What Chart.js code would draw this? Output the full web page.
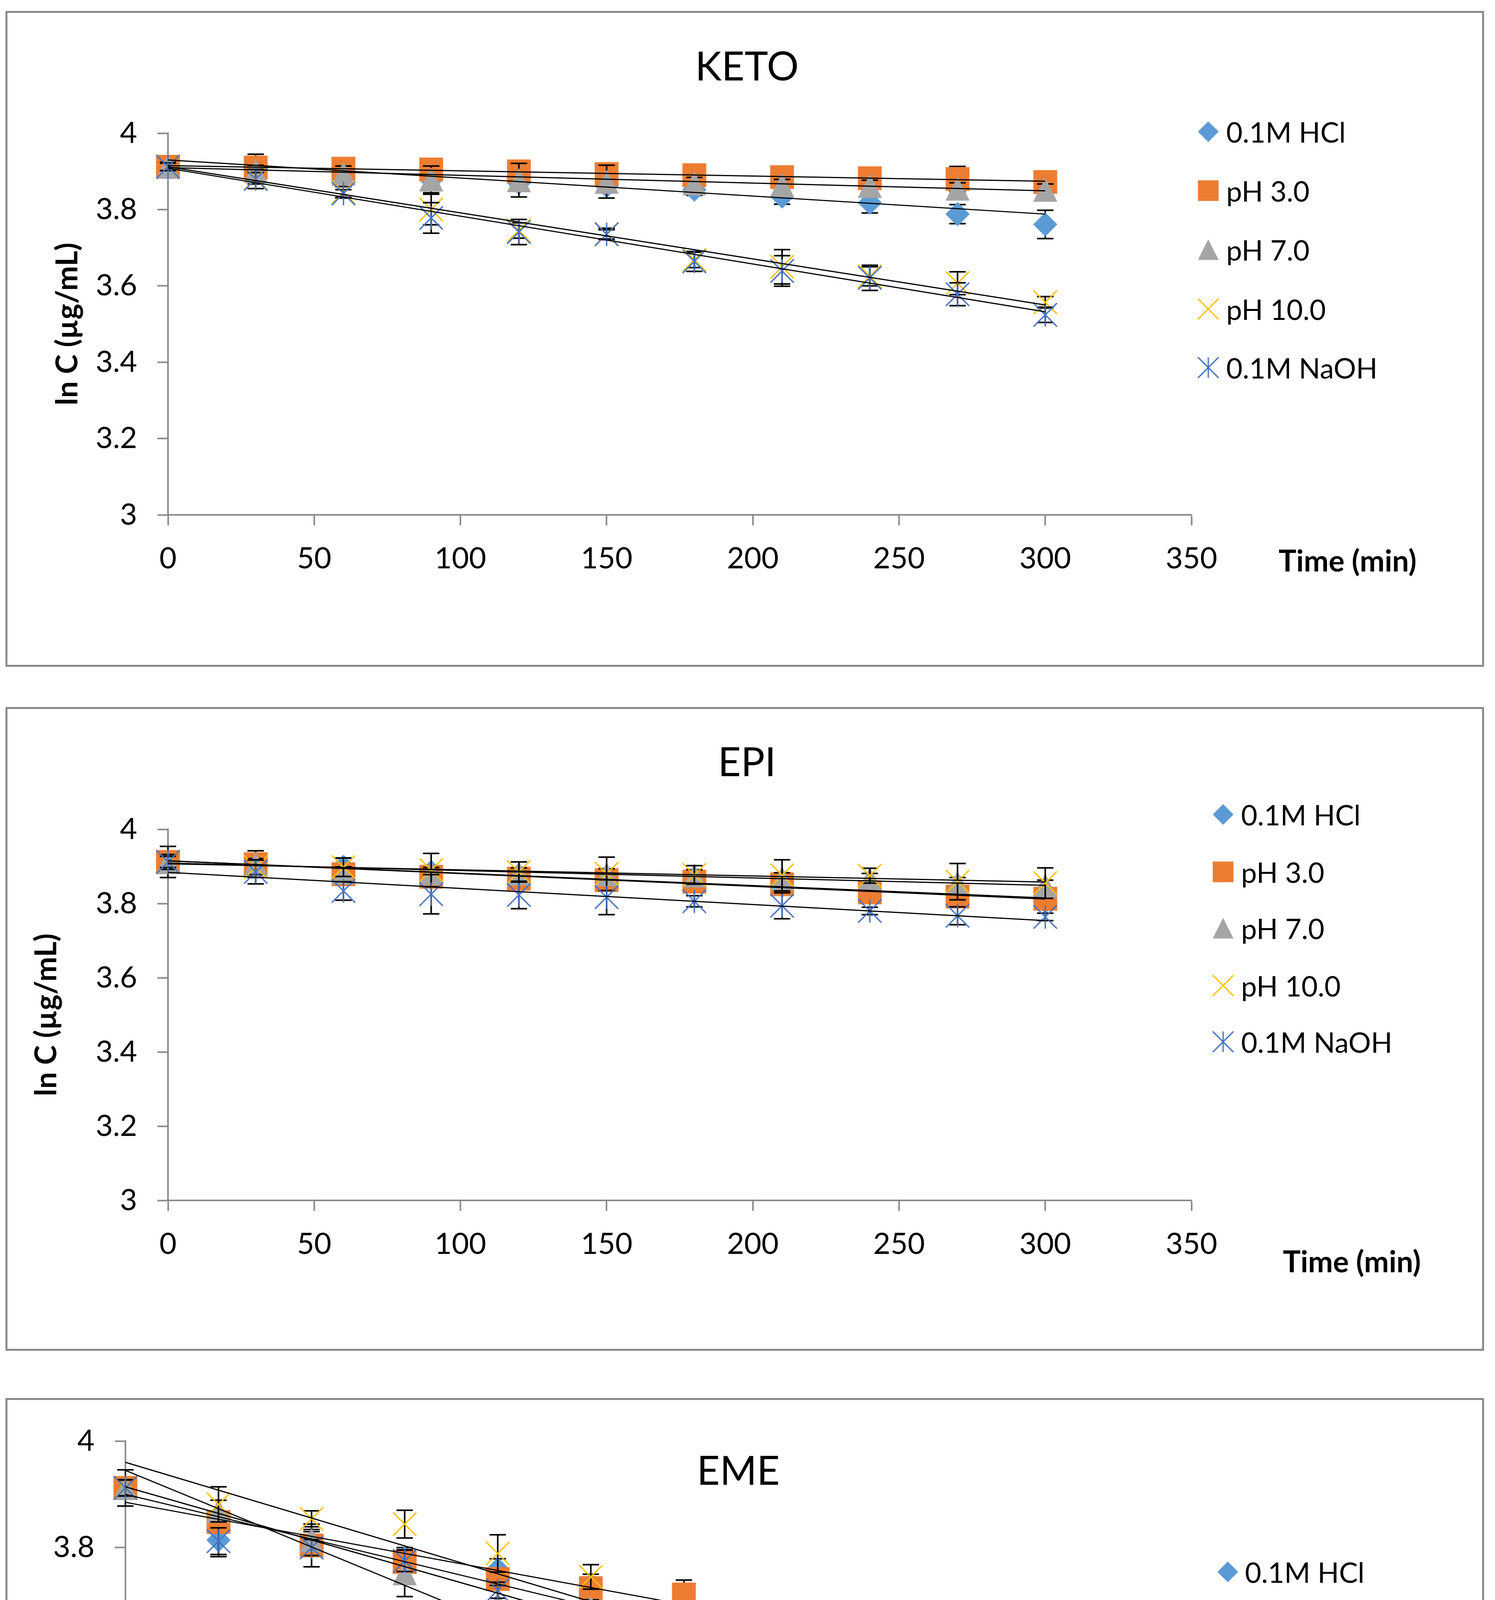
<!DOCTYPE html>
<html>
<head>
<meta charset="utf-8">
<script src="https://cdn.jsdelivr.net/npm/chart.js@4.4.1/dist/chart.umd.min.js"></script>
<style>
body { margin: 0; background: #fff; width: 3827px; height: 5241px; position: relative; font-family: Lato, "Noto Sans", sans-serif; overflow: hidden; }
.panel { position: absolute; left: 14px; width: 3775px; border: 5px solid #898989; background: #fff; }
.panel canvas { position: absolute; left: 0; top: 0; }
.ttl { position: absolute; font-size: 102px; line-height: 1; transform: translate(-50%, -50%); white-space: nowrap; }
.xt { position: absolute; font-size: 76px; font-weight: bold; line-height: 1; transform: translateY(-50%); white-space: nowrap; }
.lg { position: absolute; font-size: 72px; line-height: 1; transform: translateY(-50%); white-space: nowrap; }
.lm { position: absolute; }
</style>
</head>
<body>
<div class="panel" id="p-keto" style="top:28px;height:1669px"><canvas id="c-keto"></canvas></div>
<div class="panel" id="p-epi" style="top:1810px;height:1638px"><canvas id="c-epi"></canvas></div>
<div class="panel" id="p-eme" style="top:3579px;height:1635px"><canvas id="c-eme"></canvas></div>
<script>
// sampling times (min) and axis ticks
const times = [0, 30, 60, 90, 120, 150, 180, 210, 240, 270, 300];
const xTickValues = [0, 50, 100, 150, 200, 250, 300, 350];
const yTickValues = [3, 3.2, 3.4, 3.6, 3.8, 4];

const seriesNames = ['0.1M HCl', 'pH 3.0', 'pH 7.0', 'pH 10.0', '0.1M NaOH'];
const seriesColors = ['#5B9BD5', '#ED7D31', '#A5A5A5', '#FFC000', '#4472C4'];
const seriesMarkers = ['diamond', 'square', 'triangle', 'cross', 'star'];

// KETO  (ln C)
const ketoHCl  = [3.912, 3.900, 3.888, 3.878, 3.870, 3.862, 3.852, 3.834, 3.818, 3.788, 3.761];
const ketoPH3  = [3.912, 3.910, 3.907, 3.905, 3.900, 3.893, 3.890, 3.885, 3.882, 3.880, 3.872];
const ketoPH7  = [3.912, 3.901, 3.894, 3.879, 3.877, 3.873, 3.869, 3.864, 3.862, 3.855, 3.852];
const ketoPH10 = [3.912, 3.882, 3.845, 3.800, 3.745, 3.736, 3.668, 3.650, 3.625, 3.607, 3.557];
const ketoNaOH = [3.912, 3.880, 3.842, 3.778, 3.741, 3.735, 3.664, 3.639, 3.621, 3.578, 3.524];
const ketoErrHCl  = [0.010, 0.015, 0.015, 0.015, 0.015, 0.015, 0.015, 0.020, 0.027, 0.025, 0.037];
const ketoErrPH3  = [0.012, 0.035, 0.015, 0.012, 0.012, 0.012, 0.012, 0.012, 0.012, 0.033, 0.012];
const ketoErrPH7  = [0.012, 0.015, 0.020, 0.035, 0.044, 0.043, 0.015, 0.015, 0.015, 0.015, 0.015];
const ketoErrPH10 = [0.010, 0.015, 0.015, 0.040, 0.020, 0.015, 0.020, 0.045, 0.025, 0.030, 0.015];
const ketoErrNaOH = [0.010, 0.025, 0.010, 0.040, 0.033, 0.012, 0.026, 0.040, 0.033, 0.030, 0.020];
const ketoTrendStart = [3.930, 3.915, 3.910, 3.912, 3.908];
const ketoTrendEnd   = [3.788, 3.874, 3.849, 3.550, 3.532];

// EPI
const epiHCl  = [3.912, 3.905, 3.899, 3.885, 3.875, 3.865, 3.858, 3.848, 3.835, 3.820, 3.805];
const epiPH3  = [3.912, 3.906, 3.879, 3.872, 3.867, 3.863, 3.859, 3.852, 3.830, 3.819, 3.813];
const epiPH7  = [3.912, 3.906, 3.884, 3.882, 3.881, 3.879, 3.876, 3.868, 3.866, 3.855, 3.848];
const epiPH10 = [3.912, 3.898, 3.898, 3.890, 3.885, 3.880, 3.877, 3.876, 3.875, 3.859, 3.855];
const epiNaOH = [3.912, 3.885, 3.834, 3.825, 3.823, 3.817, 3.806, 3.794, 3.780, 3.767, 3.764];
const epiErrHCl  = [0.015, 0.015, 0.023, 0.015, 0.015, 0.015, 0.015, 0.015, 0.015, 0.015, 0.015];
const epiErrPH3  = [0.042, 0.036, 0.020, 0.020, 0.020, 0.020, 0.015, 0.015, 0.015, 0.015, 0.015];
const epiErrPH7  = [0.015, 0.015, 0.015, 0.015, 0.015, 0.015, 0.015, 0.015, 0.015, 0.015, 0.015];
const epiErrPH10 = [0.020, 0.020, 0.025, 0.045, 0.027, 0.045, 0.025, 0.042, 0.020, 0.049, 0.041];
const epiErrNaOH = [0.015, 0.032, 0.025, 0.053, 0.037, 0.047, 0.015, 0.035, 0.010, 0.024, 0.010];
const epiTrendStart = [3.915, 3.915, 3.909, 3.907, 3.884];
const epiTrendEnd   = [3.812, 3.815, 3.849, 3.858, 3.754];

// EME
const emeHCl  = [3.912, 3.814, 3.810, 3.780, 3.759, 3.730, 3.669, 3.604, 3.554, 3.500, 3.480];
const emePH3  = [3.912, 3.848, 3.804, 3.773, 3.741, 3.724, 3.712, 3.667, 3.637, 3.585, 3.566];
const emePH7  = [3.912, 3.869, 3.814, 3.752, 3.695, 3.687, 3.621, 3.558, 3.520, 3.468, 3.400];
const emePH10 = [3.912, 3.881, 3.854, 3.844, 3.789, 3.745, 3.674, 3.596, 3.507, 3.469, 3.419];
const emeNaOH = [3.912, 3.812, 3.800, 3.775, 3.720, 3.623, 3.544, 3.444, 3.375, 3.268, 3.180];
const emeErrHCl  = [0.015, 0.031, 0.020, 0.020, 0.020, 0.020, 0.020, 0.020, 0.030, 0.030, 0.010];
const emeErrPH3  = [0.034, 0.020, 0.040, 0.020, 0.020, 0.020, 0.027, 0.025, 0.025, 0.037, 0.026];
const emeErrPH7  = [0.015, 0.020, 0.020, 0.044, 0.034, 0.015, 0.015, 0.027, 0.020, 0.036, 0.019];
const emeErrPH10 = [0.015, 0.033, 0.015, 0.026, 0.035, 0.023, 0.015, 0.015, 0.015, 0.015, 0.020];
const emeErrNaOH = [0.015, 0.025, 0.015, 0.020, 0.015, 0.034, 0.018, 0.012, 0.012, 0.033, 0.013];
const emeTrendStart = [3.900, 3.885, 3.914, 3.960, 3.945];
const emeTrendEnd   = [3.479, 3.565, 3.415, 3.437, 3.226];

const AXIS = '#898989';
const W = 3775;

// where things sit (canvas-local plot box, page coords for the html text)
const panels = [
  { id: 'keto', title: 'KETO', h: 1669, pageTop: 33,
    left: 411, right: 3031, top: 308, bottom: 1285, padL: 109,
    values: [ketoHCl, ketoPH3, ketoPH7, ketoPH10, ketoNaOH],
    errors: [ketoErrHCl, ketoErrPH3, ketoErrPH7, ketoErrPH10, ketoErrNaOH],
    trendStart: ketoTrendStart, trendEnd: ketoTrendEnd,
    titlePos: [1912, 167], xTitlePos: [3273, 1434], legend: { mx: 3093, tx: 3139, ys: [337, 488, 639, 791, 941] } },
  { id: 'epi', title: 'EPI', h: 1638, pageTop: 1815,
    left: 411, right: 3031, top: 308, bottom: 1258, padL: 55,
    values: [epiHCl, epiPH3, epiPH7, epiPH10, epiNaOH],
    errors: [epiErrHCl, epiErrPH3, epiErrPH7, epiErrPH10, epiErrNaOH],
    trendStart: epiTrendStart, trendEnd: epiTrendEnd,
    titlePos: [1912, 1948], xTitlePos: [3284, 3228], legend: { mx: 3131, tx: 3177, ys: [2085, 2232, 2376, 2523, 2667] } },
  { id: 'eme', title: 'EME', h: 1635, pageTop: 3584,
    left: 302, right: 3082, top: 105, bottom: 1469, padL: 29,
    values: [emeHCl, emePH3, emePH7, emePH10, emeNaOH],
    errors: [emeErrHCl, emeErrPH3, emeErrPH7, emeErrPH10, emeErrNaOH],
    trendStart: emeTrendStart, trendEnd: emeTrendEnd,
    titlePos: [1890, 3762], xTitlePos: [3299, 5077], legend: { mx: 3143, tx: 3187, ys: [4024, 4178, 4332, 4492, 4646] } }
];

const markerSize = { diamond: 62, square: 61, triangle: 62, cross: 60, star: 60 };

function markerCanvas(kind, color, size, lw) {
  const c = document.createElement('canvas');
  const s = Math.ceil(size + lw * 2);
  c.width = c.height = s % 2 ? s + 1 : s;
  const ctx = c.getContext('2d');
  const m = c.width / 2, h = size / 2;
  ctx.fillStyle = color;
  ctx.strokeStyle = color;
  ctx.lineWidth = lw;
  ctx.beginPath();
  if (kind === 'diamond') {
    ctx.moveTo(m, m - h); ctx.lineTo(m + h, m); ctx.lineTo(m, m + h); ctx.lineTo(m - h, m);
    ctx.closePath(); ctx.fill();
  } else if (kind === 'square') {
    ctx.fillRect(m - h, m - h, size, size);
  } else if (kind === 'triangle') {
    ctx.moveTo(m, m - h); ctx.lineTo(m + h, m + h); ctx.lineTo(m - h, m + h);
    ctx.closePath(); ctx.fill();
  } else {
    ctx.moveTo(m - h, m - h); ctx.lineTo(m + h, m + h);
    ctx.moveTo(m + h, m - h); ctx.lineTo(m - h, m + h);
    if (kind === 'star') { ctx.moveTo(m, m - h); ctx.lineTo(m, m + h); }
    ctx.stroke();
  }
  return c;
}

// error bars drawn with each series, under its own markers
const errorBars = {
  id: 'errorBars',
  beforeDatasetDraw(chart, args) {
    const ds = chart.data.datasets[args.index];
    if (!ds.errors) return;
    const ctx = chart.ctx, x = chart.scales.x, y = chart.scales.y;
    ctx.save();
    ctx.strokeStyle = '#000';
    ctx.lineWidth = 4;
    ds.data.forEach((p, i) => {
      const e = ds.errors[i];
      const px = x.getPixelForValue(p.x);
      const t = y.getPixelForValue(p.y + e), b = y.getPixelForValue(p.y - e);
      ctx.beginPath();
      ctx.moveTo(px, t); ctx.lineTo(px, b);
      ctx.moveTo(px - 21, t); ctx.lineTo(px + 21, t);
      ctx.moveTo(px - 21, b); ctx.lineTo(px + 21, b);
      ctx.stroke();
    });
    ctx.restore();
  }
};

Chart.defaults.font.family = 'Lato, "Noto Sans", sans-serif';
Chart.defaults.color = '#000';

function axisGrid() {
  return { drawOnChartArea: false, drawTicks: true, tickLength: 27, tickWidth: 4, tickColor: AXIS, color: AXIS };
}

function buildChart(p) {
  const canvas = document.getElementById('c-' + p.id);
  canvas.width = W;
  canvas.height = p.h;
  const g = { yw: p.left - p.padL, xh: 150 };

  const datasets = [];
  p.values.forEach((vals, s) => {
    datasets.push({
      label: seriesNames[s],
      data: vals.map((v, i) => ({ x: times[i], y: v })),
      errors: p.errors[s],
      pointStyle: markerCanvas(seriesMarkers[s], seriesColors[s], markerSize[seriesMarkers[s]], 3.5),
      pointRadius: 30,
      showLine: false,
      clip: false,
      order: 10 - s
    });
  });
  p.trendStart.forEach((v, s) => {
    datasets.push({
      label: seriesNames[s] + ' trend',
      data: [{ x: 0, y: v }, { x: 300, y: p.trendEnd[s] }],
      showLine: true,
      borderColor: '#000',
      borderWidth: 3,
      pointRadius: 0,
      clip: false,
      order: 1
    });
  });

  const chart = new Chart(canvas, {
    type: 'scatter',
    data: { datasets: datasets },
    options: {
      responsive: false,
      animation: false,
      devicePixelRatio: 1,
      events: [],
      layout: { padding: { left: p.padL, top: p.top, right: W - p.right, bottom: p.h - p.bottom - g.xh } },
      plugins: { legend: { display: false }, tooltip: { enabled: false } },
      scales: {
        x: {
          type: 'linear', min: 0, max: 350,
          afterBuildTicks: s => { s.ticks = xTickValues.map(v => ({ value: v })); },
          afterFit: s => { s.height = g.xh; },
          grid: axisGrid(),
          border: { color: AXIS, width: 4 },
          ticks: { color: '#000', font: { size: 76 }, padding: 40, maxRotation: 0, autoSkip: false,
                   callback: v => String(v) }
        },
        y: {
          type: 'linear', min: 3, max: 4,
          afterBuildTicks: s => { s.ticks = yTickValues.map(v => ({ value: v })); },
          afterFit: s => { s.width = g.yw; },
          grid: axisGrid(),
          border: { color: AXIS, width: 4 },
          ticks: { color: '#000', font: { size: 76 }, padding: 52, callback: v => String(+v.toFixed(2)) },
          title: { display: true, text: 'ln C (µg/mL)', color: '#000', font: { size: 76, weight: 'bold' }, padding: 0 }
        }
      }
    },
    plugins: [errorBars]
  });

  // nudge the plot box onto the measured position
  for (let k = 0; k < 2; k++) {
    const a = chart.chartArea;
    const pad = chart.options.layout.padding;
    const np = { left: pad.left, top: pad.top + (p.top - a.top), right: pad.right + (a.right - p.right), bottom: pad.bottom + (a.bottom - p.bottom) };
    g.yw += p.left - a.left;
    chart.options.layout.padding = np;
    chart.update('none');
  }
  return chart;
}

function addText(cls, txt, x, y) {
  const d = document.createElement('div');
  d.className = cls;
  d.textContent = txt;
  d.style.left = x + 'px';
  d.style.top = y + 'px';
  document.body.appendChild(d);
}

panels.forEach(p => {
  buildChart(p);
  addText('ttl', p.title, p.titlePos[0], p.titlePos[1]);
  addText('xt', 'Time (min)', p.xTitlePos[0], p.xTitlePos[1]);
  seriesNames.forEach((name, s) => {
    const m = markerCanvas(seriesMarkers[s], seriesColors[s], 53, 3.2);
    m.className = 'lm';
    m.style.left = (p.legend.mx - m.width / 2) + 'px';
    m.style.top = (p.legend.ys[s] - m.height / 2) + 'px';
    document.body.appendChild(m);
    addText('lg', name, p.legend.tx, p.legend.ys[s]);
  });
});
</script>
</body>
</html>
